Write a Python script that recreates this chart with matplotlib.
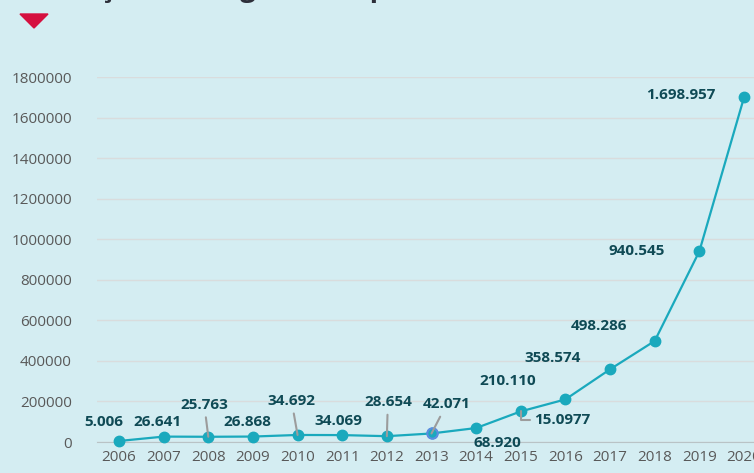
import matplotlib.pyplot as plt
from matplotlib.patches import Polygon

anos = [2006, 2007, 2008, 2009, 2010, 2011, 2012, 2013, 2014,
        2015, 2016, 2017, 2018, 2019, 2020]
valores = [5006, 26641, 25763, 26868, 34692, 34069, 28654, 42071, 68920,
           150977, 210110, 358574, 498286, 940545, 1698957]
rotulos = ["5.006", "26.641", "25.763", "26.868", "34.692", "34.069", "28.654",
           "42.071", "68.920", "15.0977", "210.110", "358.574", "498.286",
           "940.545", "1.698.957"]
y_ticks = [0, 200000, 400000, 600000, 800000, 1000000, 1200000,
           1400000, 1600000, 1800000]

# deslocamento dos rótulos (pixels) e se tem linha de ligação
offsets = [(-15, 19), (-6, 15), (-4, 32), (-6, 15), (-6, 34), (-4, 14),
           (1, 34), (15, 29), (21, -15), (41, -9), (-58, 18), (-57, 11),
           (-56, 15), (-63, 0), (-63, 2)]
leader = [False, False, True, False, True, False, True, True, False,
          "elbow", False, False, False, False, False]

bg = "#d4edf2"
cor_linha = "#1aa9bd"
cor_rotulo = "#0f4a55"

plt.rcParams['font.family'] = ['Open Sans', 'DejaVu Sans']

W, H = 754, 473
fig = plt.figure(figsize=(W / 100, H / 100), dpi=100, facecolor=bg)
ax = fig.add_axes([97 / W, 31 / H, (W - 97) / W, 365 / H])
ax.set_facecolor(bg)

ax.plot(anos, valores, color=cor_linha, lw=1.6, marker="o", ms=7.5,
        mec=cor_linha, clip_on=False, zorder=3)
# ponto destacado de 2013
i13 = anos.index(2013)
ax.plot([anos[i13]], [valores[i13]], marker="o", ms=7.5, color=cor_linha,
        mec="#5b8de0", mew=1.5, clip_on=False, zorder=4)

for x, y, txt, off, ld in zip(anos, valores, rotulos, offsets, leader):
    props = None
    if ld is True:
        props = dict(arrowstyle="-", color="#9c9c9c", lw=1.5,
                     shrinkA=2, shrinkB=0)
    elif ld == "elbow":
        props = dict(arrowstyle="-", color="#9c9c9c", lw=1.5, shrinkA=1,
                     shrinkB=0, relpos=(0, 0.5),
                     connectionstyle="angle,angleA=0,angleB=90,rad=0")
    ax.annotate(txt, (x, y), xytext=off, textcoords="offset pixels",
                ha="center", va="center", fontsize=11, fontweight="bold",
                color=cor_rotulo, arrowprops=props, zorder=5,
                annotation_clip=False)

ax.set_xlim(2005.507, 2020.224)
ax.set_ylim(0, 1800000)
ax.set_xticks(anos)
ax.set_yticks(y_ticks)
ax.set_yticklabels([str(v) for v in y_ticks])
ax.tick_params(axis="both", length=0, labelsize=11, labelcolor="#595959")
ax.tick_params(axis="x", pad=6)
ax.tick_params(axis="y", pad=18)
ax.grid(axis="y", color="#d9dcdd", lw=1)
ax.set_axisbelow(True)
for s in ["top", "right", "left"]:
    ax.spines[s].set_visible(False)
ax.spines["bottom"].set_color("#b9c3c6")

# título (cortado no topo) e triângulo vermelho
fig.text(25 / W, 1 + 4 / H, "Evolução dos registos de pedidos", fontsize=20,
         fontweight="bold", color="#2d2f3a", ha="left", va="baseline")
fig.patches.append(Polygon([(20 / W, 1 - 14 / H), (48 / W, 1 - 14 / H),
                            (34 / W, 1 - 28 / H)], closed=True,
                           transform=fig.transFigure, color="#d5103f"))

fig.savefig("out.png", dpi=100, facecolor=bg)
